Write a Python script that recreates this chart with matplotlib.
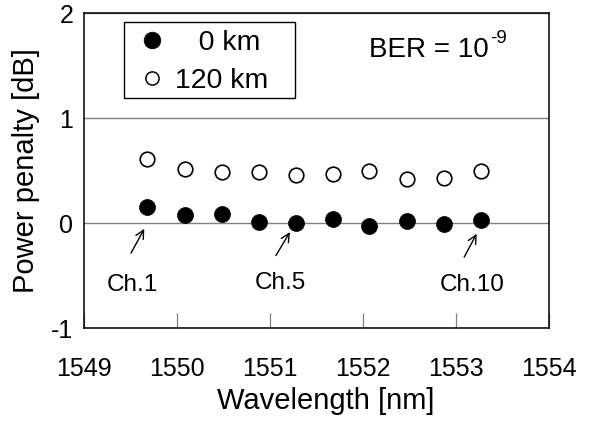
import numpy as np
import matplotlib.pyplot as plt
from matplotlib.lines import Line2D
from matplotlib.patches import Rectangle

plt.rcParams['font.family'] = ['Liberation Sans', 'DejaVu Sans']

# channel wavelengths [nm] and power penalty [dB]
wavelength = [1549.68, 1550.08, 1550.48, 1550.88, 1551.28,
              1551.68, 1552.07, 1552.47, 1552.87, 1553.27]
penalty_0km = [0.15, 0.08, 0.09, 0.01, 0.00, 0.04, -0.03, 0.02, -0.01, 0.03]
penalty_120km = [0.61, 0.52, 0.49, 0.49, 0.46, 0.47, 0.50, 0.42, 0.43, 0.50]

xticks = [1549, 1550, 1551, 1552, 1553, 1554]
yticks = [-1, 0, 1, 2]

# channel marks: (label, text x, text y, arrow tip, arrow tail)
channels = [
    ("Ch.1", 1549.52, -0.645, (1549.646, -0.054), (1549.503, -0.286)),
    ("Ch.5", 1551.107, -0.626, (1551.214, -0.086), (1551.063, -0.309)),
    ("Ch.10", 1553.175, -0.645, (1553.224, -0.102), (1553.09, -0.324)),
]

W, H = 589, 421
fig = plt.figure(figsize=(W / 100, H / 100), dpi=100)
ax = fig.add_axes([84.3 / W, 1 - 328 / H, 464.4 / W, 314.7 / H])

ax.plot(wavelength, penalty_0km, 'o', color='black', markersize=11.5,
        markeredgewidth=0.5, zorder=3)
ax.plot(wavelength, penalty_120km, 'o', markerfacecolor='white',
        markeredgecolor='black', markersize=10.5, markeredgewidth=1.2, zorder=3)

ax.set_xlim(1549, 1554)
ax.set_ylim(-1, 2)
ax.set_xticks(xticks)
ax.set_yticks(yticks)
ax.set_xticklabels([str(t) for t in xticks])
ax.set_yticklabels([str(t) for t in yticks])
ax.tick_params(axis='x', direction='in', length=11, width=0.9, color='#808080',
               labelsize=18, pad=21)
ax.tick_params(axis='y', length=0, labelsize=18, pad=8)
ax.yaxis.grid(True, color='#808080', linewidth=1.0)
ax.set_axisbelow(True)
for s in ax.spines.values():
    s.set_linewidth(1.1)
    s.set_color('black')

for lab, tx, ty, tip, tail in channels:
    ax.text(tx, ty, lab, fontsize=17.5, ha='center', va='baseline')
    ax.annotate('', xy=tip, xytext=tail,
                arrowprops=dict(arrowstyle='->', lw=1.0, color='black',
                                mutation_scale=15, shrinkA=0, shrinkB=0))

fig.text(369 / W, 1 - 56.7 / H, 'BER = 10', fontsize=20,
         ha='left', va='baseline')
fig.text(490 / W, 1 - 43 / H, '-9', fontsize=13.5,
         ha='left', va='baseline')

fig.text(326 / W, 1 - 401 / H, 'Wavelength [nm]', fontsize=21,
         ha='center', va='center')
fig.text(26 / W, 1 - 170.7 / H, 'Power penalty [dB]', fontsize=21,
         ha='center', va='center', rotation=90)

# legend
handles = [
    Line2D([], [], linestyle='none', marker='o', color='black',
           markersize=12, markeredgewidth=0.5),
    Line2D([], [], linestyle='none', marker='o', markerfacecolor='white',
           markeredgecolor='black', markersize=9.5, markeredgewidth=1.1),
]
fig.legend(handles, ['   0 km', '120 km'], loc='upper left',
           bbox_to_anchor=(135 / W, 1 - 30 / H), frameon=False,
           fontsize=20.5, borderpad=0, borderaxespad=0, handlelength=1.19,
           handletextpad=0.21, labelspacing=0.42, numpoints=1)
fig.patches.append(Rectangle((124 / W, 1 - 98 / H), 171 / W, 76 / H,
                             transform=fig.transFigure, fill=False,
                             edgecolor='black', linewidth=1.0))

fig.savefig('out.png', dpi=100)
